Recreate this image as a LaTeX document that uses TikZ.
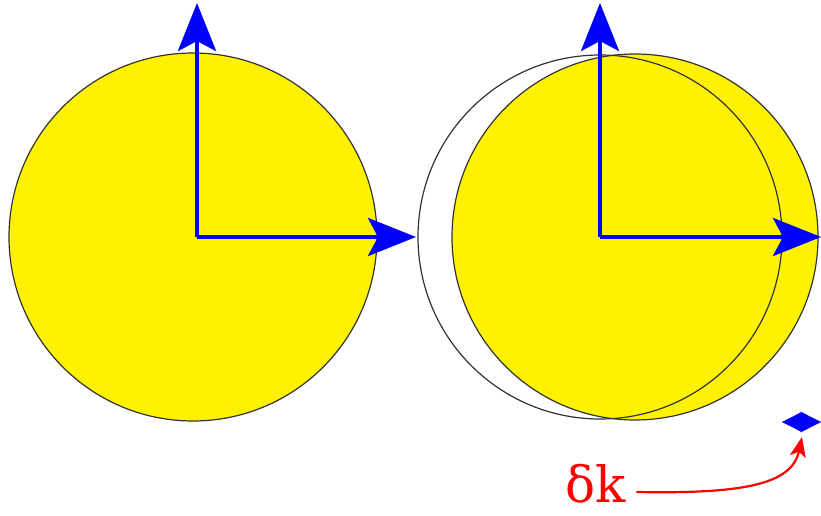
\documentclass[tikz,border=0pt]{standalone}
\usepackage{fontspec}
\setmainfont{Liberation Serif}
\newfontfamily\labelfont{DejaVu Serif}
\usepackage{tikz}
\usetikzlibrary{arrows.meta,positioning,calc}

\begin{document}
\begin{tikzpicture}[
        x=1pt, y=-1pt,
        disk/.style={fill=yellow},
        rim/.style={draw=black!80, line width=1.2pt},
        axis/.style={draw=blue, line width=4pt, -{Stealth[length=48pt, width=38pt, inset=10pt]}},
        shiftarrow/.style={draw=blue, line width=3pt, {Stealth[length=20pt, width=20pt, inset=2pt]}-{Stealth[length=20pt, width=20pt, inset=2pt]}},
        note/.style={draw=red, line width=2.2pt, -{Stealth[length=20pt, width=16pt, inset=5pt]}}
    ]
    \useasboundingbox (0,0) rectangle (821,516);

    % left disk with its axes
    \coordinate (c1) at (193,237);
    \coordinate (o1) at (197,237);
    \coordinate (y1) at (197,3);
    \coordinate (x1) at (416,237);
    \path[disk] (c1) circle[radius=184];
    \draw[rim] (c1) circle[radius=184];

    % right: old position (empty) and shifted disk
    \coordinate (c2) at (600,237);
    \coordinate (c3) at (635,237);
    \coordinate (o2) at (600,237);
    \coordinate (y2) at (600,3);
    \coordinate (x2) at (821,237);
    \path[fill=white] (c2) circle[radius=182];
    \path[disk] (c3) circle[radius=183];
    \draw[rim] (c2) circle[radius=182];
    \draw[rim] (c3) circle[radius=183];

    \draw[axis] (o1) -- (y1);
    \draw[axis] (o1) -- (x1);
    \draw[axis] (o2) -- (y2);
    \draw[axis] (o2) -- (x2);

    % the small shift and its label
    \coordinate (sl) at (782,422);
    \coordinate (sr) at (821,422);
    \draw[shiftarrow] (sl) -- (sr);
    \fill[blue] (sl) -- (801.5,414) -- (sr) -- (801.5,430) -- cycle;
    \coordinate (tip) at (802,437);

    \node[text=red, font=\labelfont\fontsize{50}{54}\selectfont, inner sep=0pt] (dk) at (596,484) {δk};
    \draw[note] ($(dk.east)+(10,8)$) .. controls (745,494) and (792,484) .. (tip);
\end{tikzpicture}
\end{document}
